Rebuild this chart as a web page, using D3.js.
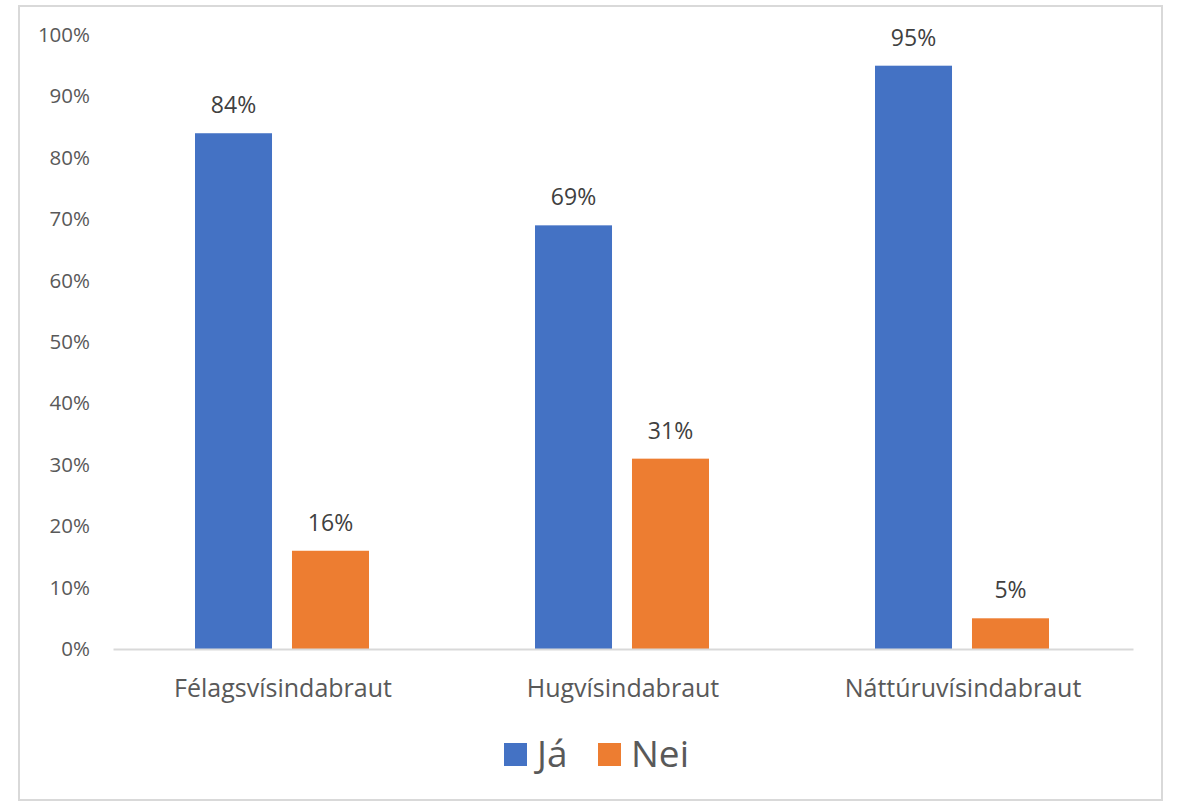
<!DOCTYPE html>
<html><head><meta charset="utf-8">
<script src="https://cdn.jsdelivr.net/npm/d3@7"></script>
<style>body{margin:0;background:#fff}svg{display:block}text{font-family:"Open Sans",sans-serif}</style>
</head><body>
<svg id="c" width="1178" height="804"></svg>
<script>
const categories = ["Félagsvísindabraut", "Hugvísindabraut", "Náttúruvísindabraut"];
const seriesNames = ["Já", "Nei"];
const jaValues = [84, 69, 95];
const neiValues = [16, 31, 5];
const yTicks = [0, 10, 20, 30, 40, 50, 60, 70, 80, 90, 100];
const colors = ["#4472C4", "#ED7D31"];

const svg = d3.select("#c");
svg.append("rect").attr("x", 19).attr("y", 6).attr("width", 1143).attr("height", 794)
  .attr("fill", "#fff").attr("stroke", "#d9d9d9").attr("stroke-width", 2);

const pLeft = 113, pRight = 1133, pTop = 35, pBottom = 649;
const x = d3.scaleBand().domain(categories).range([pLeft, pRight]);
const y = d3.scaleLinear().domain([0, 100]).range([pBottom, pTop]);
const inner = d3.scaleBand().domain(seriesNames).range([0, 174]).paddingInner(0.206);

const yAxis = svg.append("g").attr("transform", `translate(${pLeft},0)`)
  .call(d3.axisLeft(y).tickValues(yTicks).tickFormat(d => d + "%").tickSize(0).tickPadding(23));
yAxis.select(".domain").remove();
yAxis.selectAll("text").attr("font-size", 20.5).attr("fill", "#595959").attr("font-family", "Open Sans");

const data = categories.map((c, i) => ({cat: c, vals: [jaValues[i], neiValues[i]]}));
const g = svg.append("g");
data.forEach(d => {
  const x0 = x(d.cat) + x.bandwidth() / 2 - 88;
  d.vals.forEach((v, j) => {
    const bx = x0 + inner(seriesNames[j]);
    g.append("rect").attr("x", bx).attr("y", y(v)).attr("width", inner.bandwidth())
      .attr("height", y(0) - y(v)).attr("fill", colors[j]);
    g.append("text").attr("x", bx + inner.bandwidth() / 2).attr("y", y(v) - 20)
      .attr("text-anchor", "middle").attr("font-size", 23).attr("fill", "#404040").text(v + "%");
  });
});

const xAxis = svg.append("g").attr("transform", `translate(0,${pBottom})`)
  .call(d3.axisBottom(x).tickSize(0).tickPadding(30));
xAxis.select(".domain").attr("stroke", "#d9d9d9").attr("stroke-width", 2);
xAxis.selectAll("text").attr("font-size", 25).attr("fill", "#595959").attr("font-family", "Open Sans");

const legend = svg.append("g");
const legX = [504, 598];
seriesNames.forEach((s, j) => {
  legend.append("rect").attr("x", legX[j]).attr("y", 743).attr("width", 23).attr("height", 23).attr("fill", colors[j]);
  legend.append("text").attr("x", legX[j] + 33).attr("y", 767).attr("font-size", 37).attr("fill", "#595959").text(s);
});
</script>
</body></html>
